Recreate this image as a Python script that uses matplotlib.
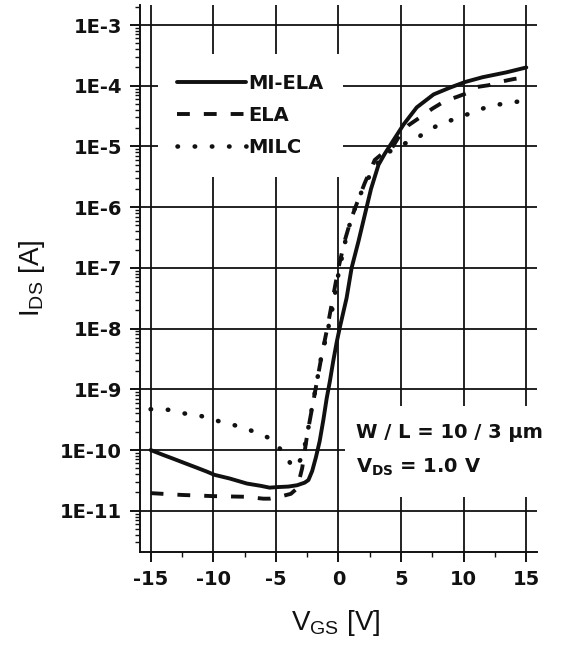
import matplotlib
matplotlib.use('Agg')
import matplotlib.pyplot as plt
from matplotlib.ticker import FixedLocator, FixedFormatter, LogLocator, MultipleLocator, NullFormatter
from matplotlib.patches import Rectangle

plt.rcParams['axes.unicode_minus'] = False
plt.rcParams['mathtext.fontset'] = 'custom'
plt.rcParams['mathtext.rm'] = 'Liberation Sans'
plt.rcParams['mathtext.bf'] = 'DejaVu Sans:bold'

# ---------------- data ----------------
vgs_mi_ela = [-15, -14, -13.2, -12.2, -11.3, -10.5, -9.9, -8.7, -7.3, -6.2, -5.5, -4.9, -4.0, -3.3,
              -2.7, -2.4, -2.1, -1.8, -1.5, -1.2, -0.94, -0.68, -0.42, -0.14, 0.12, 0.65, 1.05,
              1.6, 2.25, 2.6, 3.2, 3.7, 4.2, 5.2, 6.25, 7.6, 8.9, 10.1, 11.5, 13.4, 15.0]
ids_mi_ela = [1e-10, 8.3e-11, 7.2e-11, 6e-11, 5.1e-11, 4.4e-11, 3.9e-11, 3.4e-11, 2.8e-11, 2.57e-11,
              2.4e-11, 2.45e-11, 2.5e-11, 2.63e-11, 2.9e-11, 3.2e-11, 4.5e-11, 7.6e-11, 1.4e-10,
              3.2e-10, 7.1e-10, 1.38e-9, 2.9e-9, 6e-9, 1.07e-8, 3.2e-8, 1e-7, 2.75e-7, 1e-6, 2e-6,
              5e-6, 7.6e-6, 1.1e-5, 2.3e-5, 4.4e-5, 7.2e-5, 9.3e-5, 1.15e-4, 1.38e-4, 1.66e-4, 2e-4]

vgs_ela = [-15, -12.5, -10, -7.5, -6, -5.5, -4.5, -3.8, -3.3, -2.9, -2.5, -2.1, -1.7, -1.3, -0.9,
           -0.5, 0, 0.5, 1.0, 1.5, 2.1, 2.9, 3.5, 4.2, 5.0, 5.6, 6.5, 7.5, 8.5, 9.5, 10.3, 11.0,
           12.0, 13.0, 14.0, 15.0]
ids_ela = [1.95e-11, 1.82e-11, 1.74e-11, 1.7e-11, 1.58e-11, 1.58e-11, 1.74e-11, 1.9e-11, 2.34e-11,
           5e-11, 1.78e-10, 5e-10, 1.41e-9, 4e-9, 1e-8, 2.8e-8, 1e-7, 2.8e-7, 6.3e-7, 1.2e-6,
           2.5e-6, 6e-6, 7.6e-6, 8.9e-6, 1.66e-5, 2.24e-5, 3e-5, 4.2e-5, 5.6e-5, 6.6e-5, 7.6e-5,
           9.5e-5, 1.02e-4, 1.17e-4, 1.29e-4, 1.38e-4]

vgs_milc = [-15, -13.6, -12.3, -11.1, -9.6, -8.4, -7, -5.6, -4.4, -3.6, -3.0, -2.6, -2.2, -1.8,
            -1.4, -1.0, -0.55, 0, 0.5, 1.0, 1.6, 2.3, 3.0, 3.8, 4.6, 5.3, 6.0, 7.0, 8.2, 9.6,
            10.9, 12.2, 13.6, 15.0]
ids_milc = [4.7e-10, 4.6e-10, 4.0e-10, 3.7e-10, 3.0e-10, 2.6e-10, 2.1e-10, 1.6e-10, 9.3e-11, 5e-11,
            7e-11, 1.4e-10, 4e-10, 1.1e-9, 3.2e-9, 7e-9, 1.8e-8, 8e-8, 2.5e-7, 6.3e-7, 1.4e-6,
            2.8e-6, 5e-6, 7.6e-6, 9.5e-6, 1.12e-5, 1.26e-5, 1.74e-5, 2.4e-5, 2.95e-5, 3.8e-5,
            4.7e-5, 5.2e-5, 5.75e-5]

series_labels = ['MI-ELA', 'ELA', 'MILC']
x_ticks = [-15, -10, -5, 0, 5, 10, 15]
x_tick_labels = ['-15', '-10', '-5', '0', '5', '10', '15']
y_ticks = [1e-11, 1e-10, 1e-9, 1e-8, 1e-7, 1e-6, 1e-5, 1e-4, 1e-3]
y_tick_labels = ['1E-11', '1E-10', '1E-9', '1E-8', '1E-7', '1E-6', '1E-5', '1E-4', '1E-3']
note_lines = ['W / L = 10 / 3 \u00b5m', r'V$_{\mathbf{DS}}$ = 1.0 V']
x_label = r'V$_{\mathrm{GS}}$ [V]'
y_label = r'I$_{\mathrm{DS}}$ [A]'

# ---------------- figure ----------------
fig = plt.figure(figsize=(5.66, 6.47), dpi=100)
ax = fig.add_axes([0.2473, 0.1468, 0.7014, 0.8455])
ax.set_yscale('log')
ax.set_xlim(-15.85, 15.85)
ax.set_ylim(10 ** -11.68, 10 ** -2.67)

ink = '#111111'
ax.plot(vgs_mi_ela, ids_mi_ela, color=ink, lw=2.8, ls='-', label=series_labels[0], zorder=3,
        solid_capstyle='round')
ax.plot(vgs_ela, ids_ela, color=ink, lw=2.8, ls=(0, (3.3, 3.6)), label=series_labels[1], zorder=3,
        dash_capstyle='butt')
ax.plot(vgs_milc, ids_milc, color=ink, lw=3.3, ls=(0, (0.1, 3.65)), label=series_labels[2], zorder=3,
        dash_capstyle='round')

# ticks
ax.xaxis.set_major_locator(FixedLocator(x_ticks))
ax.xaxis.set_major_formatter(FixedFormatter(x_tick_labels))
ax.xaxis.set_minor_locator(MultipleLocator(2.5))
ax.yaxis.set_major_locator(FixedLocator(y_ticks))
ax.yaxis.set_major_formatter(FixedFormatter(y_tick_labels))
ax.yaxis.set_minor_locator(LogLocator(base=10, subs=range(2, 10), numticks=30))
ax.yaxis.set_minor_formatter(NullFormatter())

ax.tick_params(axis='both', which='major', direction='out', length=7, width=1.4, color=ink,
               labelsize=14, pad=6)
ax.tick_params(axis='both', which='minor', direction='out', length=3.5, width=1.0, color=ink)
for lab in ax.get_xticklabels() + ax.get_yticklabels():
    lab.set_fontfamily('DejaVu Sans')
    lab.set_fontweight('bold')
    lab.set_color(ink)

ax.grid(True, which='major', color=ink, lw=1.3)
ax.set_axisbelow(True)
for s in ['top', 'right']:
    ax.spines[s].set_visible(False)
for s in ['left', 'bottom']:
    ax.spines[s].set_linewidth(1.4)
    ax.spines[s].set_color(ink)

# legend
leg = ax.legend(loc='upper left', bbox_to_anchor=(0.0453, 0.910), borderaxespad=0,
                frameon=True, fancybox=False, framealpha=1, facecolor='white', edgecolor='none',
                handlelength=3.55, handletextpad=0.1, labelspacing=0.68, borderpad=1.0,
                prop={'family': 'DejaVu Sans', 'weight': 'bold', 'size': 14})
for t in leg.get_texts():
    t.set_color(ink)

# annotation box
ax.add_patch(Rectangle((0.516, 0.1005), 0.49, 0.1665, transform=ax.transAxes,
                       facecolor='white', edgecolor='none', zorder=2.5, clip_on=False))
ax.text(0.544, 0.219, note_lines[0], transform=ax.transAxes, ha='left', va='center',
        fontsize=14, fontweight='bold', family='DejaVu Sans', color=ink, zorder=6, clip_on=False)
ax.text(0.544, 0.155, note_lines[1], transform=ax.transAxes, ha='left', va='center',
        fontsize=14, fontweight='bold', family='DejaVu Sans', color=ink, zorder=6, clip_on=False)

# axis labels
ax.set_xlabel(x_label, fontsize=20, family='Liberation Sans', color=ink)
ax.set_ylabel(y_label, fontsize=20, family='Liberation Sans', color=ink)
ax.xaxis.set_label_coords(0.494, -0.102)
ax.yaxis.set_label_coords(-0.235, 0.5)

fig.savefig('out.png', dpi=100)
